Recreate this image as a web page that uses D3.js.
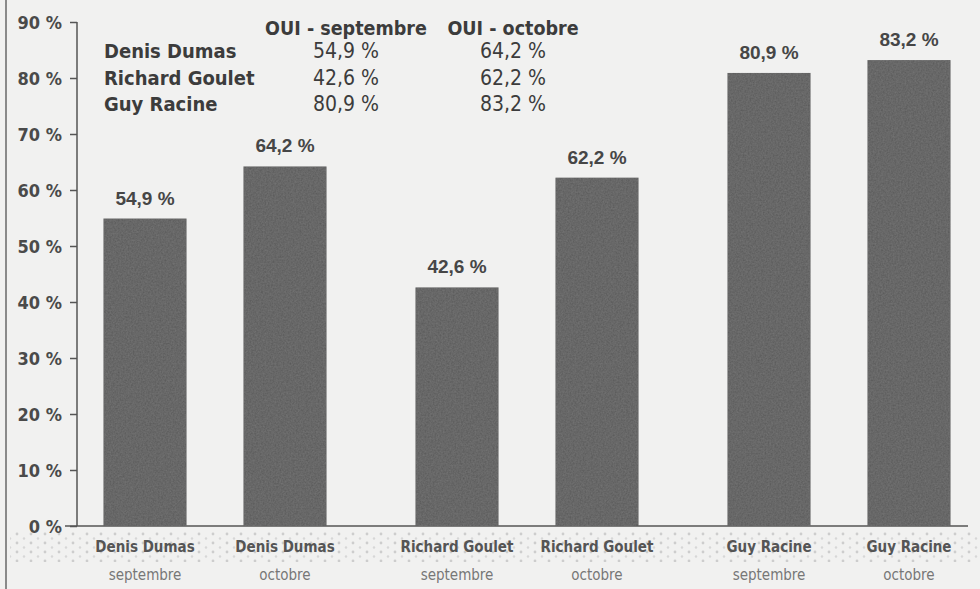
<!DOCTYPE html>
<html lang="fr">
<head>
    <meta charset="UTF-8">
    <title>OUI - septembre / octobre</title>
    <style>
        body {
            margin: 0;
            padding: 0;
            overflow: hidden;
            background: #f1f1f0;
        }

        .cond {
            font-family: "Liberation Sans Narrow", "DejaVu Sans Condensed", "Arial Narrow", sans-serif;
            font-weight: bold;
        }

        .tick-label {
            font-size: 18px;
            fill: #4a4a4a;
        }

        .value-label {
            font-family: "Liberation Sans", Arial, sans-serif;
            font-weight: bold;
            font-size: 19px;
            fill: #464646;
        }

        .table-text {
            font-size: 20px;
            fill: #3c3c3c;
        }

        .table-hdr {
            font-size: 19.5px;
        }

        .table-num {
            font-weight: normal;
            font-size: 21px;
        }

        .cat-name {
            font-size: 15px;
            fill: #555;
        }

        .cat-month {
            font-size: 15px;
            font-weight: normal;
            fill: #777;
        }
    </style>
</head>
<body>
    <script src="https://d3js.org/d3.v7.min.js"></script>
    <script>
        // donnees
        const candidates = ["Denis Dumas", "Richard Goulet", "Guy Racine"];
        const months = ["septembre", "octobre"];
        const septValues = [54.9, 42.6, 80.9];
        const octValues = [64.2, 62.2, 83.2];
        const yTicks = [0, 10, 20, 30, 40, 50, 60, 70, 80, 90];
        const tableHeaders = ["OUI - septembre", "OUI - octobre"];

        const fmt = v => d3.format(".1f")(v).replace(".", ",") + " %";

        const bars = [];
        candidates.forEach((c, i) => {
            bars.push({ name: c, month: months[0], value: septValues[i] });
            bars.push({ name: c, month: months[1], value: octValues[i] });
        });

        const width = 980;
        const height = 589;

        const svg = d3.select("body").append("svg")
            .attr("width", width)
            .attr("height", height);

        // texture papier
        const defs = svg.append("defs");
        const grain = defs.append("filter").attr("id", "grain")
            .attr("x", 0).attr("y", 0).attr("width", 1).attr("height", 1);
        grain.append("feTurbulence")
            .attr("type", "fractalNoise")
            .attr("baseFrequency", 0.6)
            .attr("numOctaves", 2)
            .attr("result", "noise");
        grain.append("feColorMatrix")
            .attr("in", "noise")
            .attr("type", "matrix")
            .attr("values", "0 0 0 0 0.3  0 0 0 0 0.3  0 0 0 0 0.3  0 0 0 0.4 0")
            .attr("result", "tint");
        grain.append("feComposite")
            .attr("in", "tint")
            .attr("in2", "SourceGraphic")
            .attr("operator", "in")
            .attr("result", "t2");
        grain.append("feMerge").selectAll("feMergeNode")
            .data(["SourceGraphic", "t2"])
            .enter().append("feMergeNode")
            .attr("in", d => d);

        const dots = defs.append("pattern").attr("id", "dots")
            .attr("width", 14).attr("height", 9)
            .attr("patternUnits", "userSpaceOnUse");
        dots.append("circle").attr("cx", 3).attr("cy", 3).attr("r", 1.4).attr("fill", "#c4c4c4");
        dots.append("circle").attr("cx", 10).attr("cy", 7.5).attr("r", 1.2).attr("fill", "#d0d0d0");

        svg.append("rect")
            .attr("width", width).attr("height", height)
            .attr("fill", "#f1f1f0");

        svg.append("rect")
            .attr("x", 10).attr("y", 532)
            .attr("width", 970).attr("height", 30)
            .attr("fill", "url(#dots)")
            .attr("opacity", 0.8);

        // bordure gauche
        svg.append("line")
            .attr("x1", 6).attr("x2", 6)
            .attr("y1", 0).attr("y2", height)
            .attr("stroke", "#8a8a8a")
            .attr("stroke-width", 2);

        const x0 = d3.scaleBand()
            .domain(candidates)
            .range([59, 995]);

        const x1 = d3.scaleBand()
            .domain(months)
            .range([44.5, 267.5])
            .paddingInner(0.407);

        const y = d3.scaleLinear()
            .domain([0, 90])
            .range([526, 22]);

        // axe Y
        const yAxis = svg.append("g")
            .attr("transform", "translate(77,0)")
            .call(d3.axisLeft(y).tickValues(yTicks).tickSize(11).tickPadding(4).tickFormat(d => d + " %"));

        yAxis.select(".domain")
            .attr("stroke", "#555")
            .attr("stroke-width", 1.5)
            .attr("d", `M0,${y(90)}V${y(0)}`);
        yAxis.selectAll(".tick line")
            .attr("stroke", "#555")
            .attr("stroke-width", 1.5)
            .attr("x1", -7).attr("x2", 0);
        yAxis.selectAll(".tick text")
            .attr("class", "cond tick-label")
            .attr("x", -15)
            .attr("dy", "0.36em");

        // ligne de base
        svg.append("line")
            .attr("x1", 65).attr("x2", 968)
            .attr("y1", y(0)).attr("y2", y(0))
            .attr("stroke", "#555")
            .attr("stroke-width", 1.5);

        // barres
        const barX = d => x0(d.name) + x1(d.month);

        svg.append("g")
            .selectAll("rect")
            .data(bars)
            .enter().append("rect")
            .attr("x", barX)
            .attr("y", d => y(d.value))
            .attr("width", x1.bandwidth())
            .attr("height", d => y(0) - y(d.value))
            .attr("fill", "#595959")
            .attr("filter", "url(#grain)");

        svg.append("g")
            .selectAll("text")
            .data(bars)
            .enter().append("text")
            .attr("class", "value-label")
            .attr("x", d => barX(d) + x1.bandwidth() / 2)
            .attr("y", d => y(d.value) - 14)
            .attr("text-anchor", "middle")
            .text(d => fmt(d.value));

        // etiquettes categories
        const cats = svg.append("g")
            .selectAll("g")
            .data(bars)
            .enter().append("g")
            .attr("transform", d => `translate(${barX(d) + x1.bandwidth() / 2},0)`);

        cats.append("text")
            .attr("class", "cond cat-name")
            .attr("y", 552)
            .attr("text-anchor", "middle")
            .text(d => d.name);

        cats.append("text")
            .attr("class", "cond cat-month")
            .attr("y", 580)
            .attr("text-anchor", "middle")
            .text(d => d.month);

        // tableau
        const colX = [346, 513];
        const rowY = d3.scalePoint()
            .domain(candidates)
            .range([58, 111]);

        const table = svg.append("g");

        table.selectAll(".hdr")
            .data(tableHeaders)
            .enter().append("text")
            .attr("class", "cond table-text table-hdr hdr")
            .attr("x", (d, i) => colX[i])
            .attr("y", 35)
            .attr("text-anchor", "middle")
            .text(d => d);

        table.selectAll(".nm")
            .data(candidates)
            .enter().append("text")
            .attr("class", "cond table-text nm")
            .attr("x", 104)
            .attr("y", d => rowY(d))
            .text(d => d);

        [septValues, octValues].forEach((vals, j) => {
            table.selectAll(".v" + j)
                .data(vals)
                .enter().append("text")
                .attr("class", "cond table-text table-num v" + j)
                .attr("x", colX[j])
                .attr("y", (d, i) => rowY(candidates[i]))
                .attr("text-anchor", "middle")
                .text(d => fmt(d));
        });
    </script>
</body>
</html>
